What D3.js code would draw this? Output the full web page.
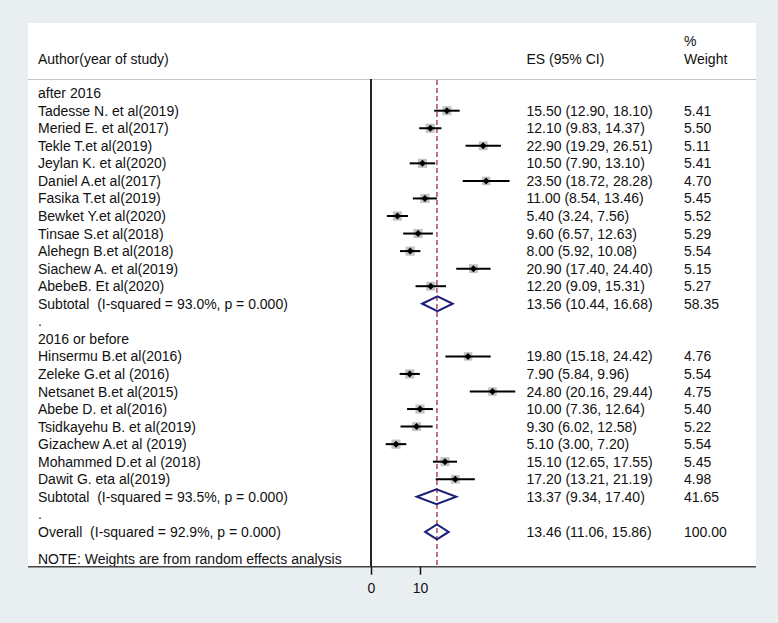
<!DOCTYPE html>
<html><head><meta charset="utf-8">
<script src="https://cdn.jsdelivr.net/npm/d3@7"></script>
<style>body{margin:0;background:#e9eff1;}svg{display:block;font-family:"Liberation Sans",Arial,sans-serif;}text{white-space:pre;}</style>
</head><body><svg id="c" width="778" height="623"></svg>
<script>
// ---- data ----
const group1Label = "after 2016";
const group1Names = ["Tadesse N. et al(2019)","Meried E. et al(2017)","Tekle T.et al(2019)","Jeylan K. et al(2020)","Daniel A.et al(2017)","Fasika T.et al(2019)","Bewket Y.et al(2020)","Tinsae S.et al(2018)","Alehegn B.et al(2018)","Siachew A. et al(2019)","AbebeB. Et al(2020)"];
const group1ES = [15.50,12.10,22.90,10.50,23.50,11.00,5.40,9.60,8.00,20.90,12.20];
const group1Lo = [12.90,9.83,19.29,7.90,18.72,8.54,3.24,6.57,5.92,17.40,9.09];
const group1Hi = [18.10,14.37,26.51,13.10,28.28,13.46,7.56,12.63,10.08,24.40,15.31];
const group1W  = [5.41,5.50,5.11,5.41,4.70,5.45,5.52,5.29,5.54,5.15,5.27];
const group1Sub = {label:"Subtotal  (I-squared = 93.0%, p = 0.000)", es:13.56, lo:10.44, hi:16.68, w:58.35};

const group2Label = "2016 or before";
const group2Names = ["Hinsermu B.et al(2016)","Zeleke G.et al (2016)","Netsanet B.et al(2015)","Abebe D. et al(2016)","Tsidkayehu B. et al(2019)","Gizachew A.et al (2019)","Mohammed D.et al (2018)","Dawit G. eta al(2019)"];
const group2ES = [19.80,7.90,24.80,10.00,9.30,5.10,15.10,17.20];
const group2Lo = [15.18,5.84,20.16,7.36,6.02,3.00,12.65,13.21];
const group2Hi = [24.42,9.96,29.44,12.64,12.58,7.20,17.55,21.19];
const group2W  = [4.76,5.54,4.75,5.40,5.22,5.54,5.45,4.98];
const group2Sub = {label:"Subtotal  (I-squared = 93.5%, p = 0.000)", es:13.37, lo:9.34, hi:17.40, w:41.65};

const overall = {label:"Overall  (I-squared = 92.9%, p = 0.000)", es:13.46, lo:11.06, hi:15.86, w:100.00};
const noteText = "NOTE: Weights are from random effects analysis";
const tickValues = [0, 10];

// ---- build rows ----
const rows = [];
rows.push({type:"label", text:group1Label});
group1Names.forEach((n,i)=>rows.push({type:"study", text:n, es:group1ES[i], lo:group1Lo[i], hi:group1Hi[i], w:group1W[i]}));
rows.push(Object.assign({type:"diamond", text:group1Sub.label}, group1Sub));
rows.push({type:"label", text:"."});
rows.push({type:"label", text:group2Label});
group2Names.forEach((n,i)=>rows.push({type:"study", text:n, es:group2ES[i], lo:group2Lo[i], hi:group2Hi[i], w:group2W[i]}));
rows.push(Object.assign({type:"diamond", text:group2Sub.label}, group2Sub));
rows.push({type:"label", text:"."});
rows.push(Object.assign({type:"diamond", text:overall.label}, overall));

const svg = d3.select("#c");
const panel = {x0:28, x1:756, y0:23, y1:567};
svg.append("rect").attr("x",panel.x0).attr("y",panel.y0).attr("width",panel.x1-panel.x0).attr("height",panel.y1-panel.y0).attr("fill","#fff");

const x = d3.scaleLinear().domain([0,10]).range([371,420]);
const y = d3.scaleLinear().domain([0,1]).range([93.15,93.15+17.55]);
const axisY = 566.7;
const fmt = d3.format(".2f");
const fs = 14;
const colText = 38, colES = 526.5, colW = 684;

// header
svg.append("line").attr("x1",panel.x0).attr("x2",panel.x1).attr("y1",79.5).attr("y2",79.5).attr("stroke","#c4c8cc").attr("stroke-width",1.2);
svg.append("text").attr("x",colText).attr("y",64).attr("font-size",fs).attr("fill","#111").text("Author(year of study)");
svg.append("text").attr("x",colES).attr("y",64).attr("font-size",fs).attr("fill","#111").text("ES (95% CI)");
svg.append("text").attr("x",colW).attr("y",46).attr("font-size",fs).attr("fill","#111").text("%");
svg.append("text").attr("x",colW).attr("y",64).attr("font-size",fs).attr("fill","#111").text("Weight");

// null line
svg.append("line").attr("x1",x(0)).attr("x2",x(0)).attr("y1",79).attr("y2",axisY).attr("stroke","#222").attr("stroke-width",2);
// overall dashed line
svg.append("line").attr("x1",x(overall.es)).attr("x2",x(overall.es)).attr("y1",80).attr("y2",axisY)
  .attr("stroke","#a3303f").attr("stroke-width",1.3).attr("stroke-dasharray","5,3");

// rows
const g = svg.append("g");
rows.forEach((r,i)=>{
  const cy = y(i);
  g.append("text").attr("x",colText).attr("y",cy+5).attr("font-size",fs).attr("fill","#111").text(r.text);
  if (r.type==="study"){
    const s = 3.9*Math.sqrt(r.w);
    g.append("rect").attr("x",x(r.es)-s/2).attr("y",cy-s/2).attr("width",s).attr("height",s).attr("fill","#c2c2c2");
    g.append("line").attr("x1",x(r.lo)).attr("x2",x(r.hi)).attr("y1",cy).attr("y2",cy).attr("stroke","#000").attr("stroke-width",2);
    const d=3.5;
    g.append("path").attr("d",`M${x(r.es)-d},${cy}L${x(r.es)},${cy-d}L${x(r.es)+d},${cy}L${x(r.es)},${cy+d}Z`).attr("fill","#000");
  }
  if (r.type==="diamond"){
    const h = 7.5;
    g.append("path").attr("d",`M${x(r.lo)},${cy}L${x(r.es)},${cy-h}L${x(r.hi)},${cy}L${x(r.es)},${cy+h}Z`)
      .attr("fill","none").attr("stroke","#1b1f7a").attr("stroke-width",2);
  }
  if (r.type==="study"||r.type==="diamond"){
    g.append("text").attr("x",colES).attr("y",cy+5).attr("font-size",fs).attr("fill","#111")
      .text(`${fmt(r.es)} (${fmt(r.lo)}, ${fmt(r.hi)})`);
    g.append("text").attr("x",colW).attr("y",cy+5).attr("font-size",fs).attr("fill","#111").text(fmt(r.w));
  }
});
// note
svg.append("text").attr("x",colText).attr("y",563.5).attr("font-size",fs).attr("fill","#111").text(noteText);

// bottom axis line
svg.append("line").attr("x1",panel.x0).attr("x2",panel.x1).attr("y1",axisY).attr("y2",axisY).attr("stroke","#444").attr("stroke-width",1.5);
const axis = d3.axisBottom(x).tickValues(tickValues).tickSize(8).tickPadding(8).tickFormat(d3.format("d"));
const ax = svg.append("g").attr("transform",`translate(0,${axisY})`).call(axis);
ax.select(".domain").remove();
ax.selectAll(".tick line").attr("stroke","#111").attr("stroke-width",1.5);
ax.selectAll(".tick text").attr("font-size",fs).attr("fill","#111").attr("font-family","Liberation Sans, Arial, sans-serif");
</script></body></html>
